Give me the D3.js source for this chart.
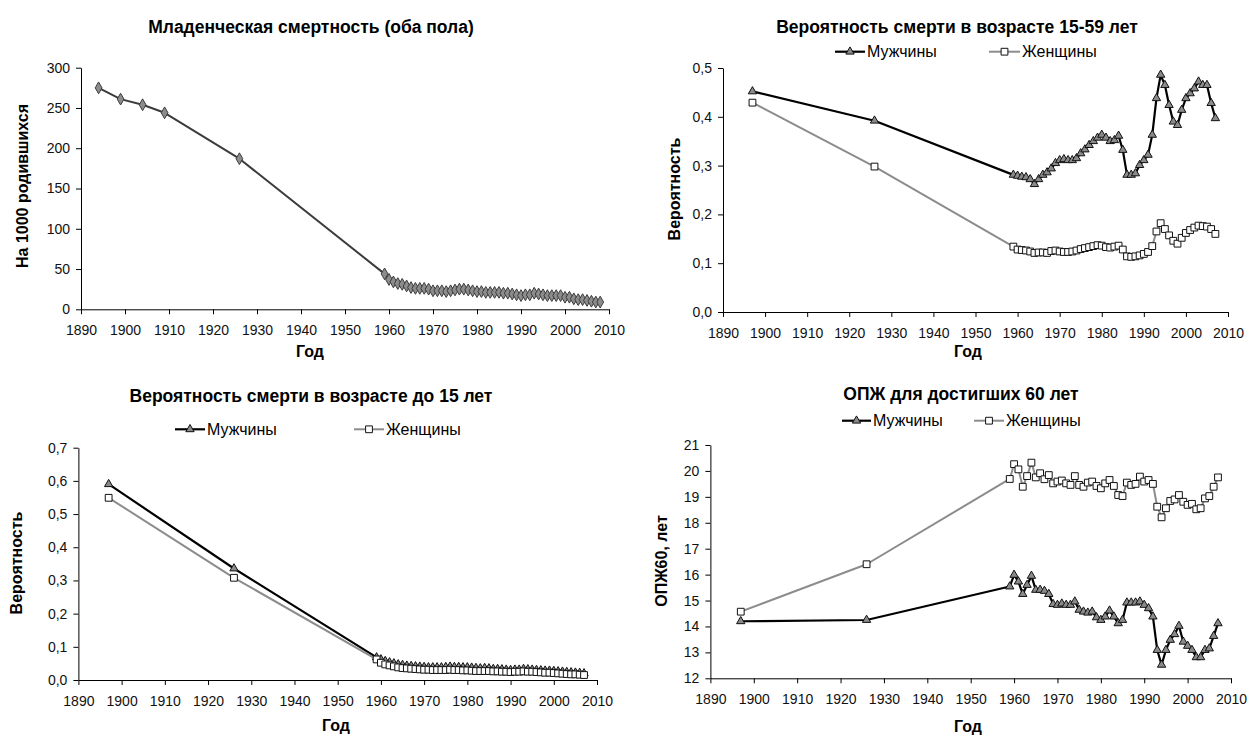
<!DOCTYPE html>
<html>
<head>
<meta charset="utf-8">
<script src="https://cdn.jsdelivr.net/npm/d3@7"></script>
<style>
  body { margin: 0; background: #fff; }
  svg { font-family: "Liberation Sans", Arial, sans-serif; }
  .axis path, .axis line { stroke: #000; }
  .axis text { font-size: 14px; fill: #111; }
</style>
</head>
<body>
<div id="chart"></div>
<script>
// ---- data ----
const xTicks = [1890, 1900, 1910, 1920, 1930, 1940, 1950, 1960, 1970, 1980, 1990, 2000, 2010];

const infantYears = [1894, 1899, 1904, 1909, 1926,
  1959, 1960, 1961, 1962, 1963, 1964, 1965, 1966, 1967, 1968, 1969, 1970, 1971, 1972, 1973, 1974,
  1975, 1976, 1977, 1978, 1979, 1980, 1981, 1982, 1983, 1984, 1985, 1986, 1987, 1988, 1989, 1990,
  1991, 1992, 1993, 1994, 1995, 1996, 1997, 1998, 1999, 2000, 2001, 2002, 2003, 2004, 2005, 2006,
  2007, 2008];
const infantRate = [275, 261, 254, 244, 187,
  44, 37, 34, 32, 31, 29, 27, 26, 26, 26, 25, 23, 23, 23, 22, 23,
  24, 25, 25, 24, 23, 22, 22, 21, 21, 21, 21, 20, 20, 19, 18, 17,
  18, 18, 20, 19, 18, 17, 17, 17, 17, 15, 15, 13, 12, 12, 11, 10,
  9, 9];

const sexYears = [1897, 1926,
  1959, 1960, 1961, 1962, 1963, 1964, 1965, 1966, 1967, 1968, 1969, 1970, 1971, 1972, 1973, 1974,
  1975, 1976, 1977, 1978, 1979, 1980, 1981, 1982, 1983, 1984, 1985, 1986, 1987, 1988, 1989, 1990,
  1991, 1992, 1993, 1994, 1995, 1996, 1997, 1998, 1999, 2000, 2001, 2002, 2003, 2004, 2005, 2006,
  2007];

// вероятность смерти 15-59
const adultMen = [0.452, 0.392,
  0.281, 0.279, 0.277, 0.276, 0.272, 0.262, 0.272, 0.281, 0.286, 0.294, 0.305, 0.311, 0.313, 0.311, 0.311, 0.315,
  0.325, 0.333, 0.342, 0.350, 0.357, 0.363, 0.357, 0.350, 0.352, 0.361, 0.332, 0.281, 0.281, 0.284, 0.301, 0.311,
  0.322, 0.363, 0.438, 0.486, 0.465, 0.424, 0.390, 0.383, 0.414, 0.438, 0.448, 0.458, 0.472, 0.465, 0.465, 0.428,
  0.397];
const adultWomen = [0.429, 0.298,
  0.134, 0.128, 0.127, 0.126, 0.124, 0.121, 0.122, 0.122, 0.121, 0.125, 0.126, 0.124, 0.123, 0.123, 0.124, 0.126,
  0.129, 0.131, 0.133, 0.135, 0.137, 0.136, 0.133, 0.132, 0.134, 0.136, 0.128, 0.114, 0.113, 0.114, 0.116, 0.119,
  0.123, 0.135, 0.165, 0.182, 0.170, 0.157, 0.146, 0.140, 0.152, 0.162, 0.168, 0.173, 0.177, 0.176, 0.175, 0.170,
  0.160];

// вероятность смерти до 15
const childMen = [0.590, 0.336,
  0.068, 0.062, 0.057, 0.053, 0.050, 0.047, 0.045, 0.043, 0.042, 0.041, 0.040, 0.039, 0.038, 0.038, 0.038, 0.038,
  0.039, 0.040, 0.039, 0.039, 0.038, 0.038, 0.037, 0.036, 0.035, 0.036, 0.035, 0.033, 0.033, 0.032, 0.031, 0.030,
  0.031, 0.031, 0.033, 0.032, 0.031, 0.030, 0.029, 0.028, 0.028, 0.027, 0.026, 0.025, 0.024, 0.023, 0.022, 0.021,
  0.020];
const childWomen = [0.549, 0.308,
  0.062, 0.052, 0.047, 0.044, 0.041, 0.038, 0.036, 0.035, 0.034, 0.033, 0.032, 0.031, 0.031, 0.030, 0.030, 0.030,
  0.030, 0.031, 0.030, 0.030, 0.029, 0.029, 0.028, 0.027, 0.027, 0.027, 0.027, 0.026, 0.026, 0.025, 0.025, 0.024,
  0.025, 0.025, 0.026, 0.025, 0.025, 0.024, 0.023, 0.022, 0.022, 0.021, 0.020, 0.019, 0.018, 0.017, 0.017, 0.016,
  0.015];

// ОПЖ в 60 лет
const e60Men = [14.20, 14.25,
  15.54, 15.99, 15.73, 15.25, 15.60, 15.95, 15.41, 15.41, 15.37, 15.25, 14.86, 14.83, 14.88, 14.83, 14.83, 14.96,
  14.64, 14.57, 14.53, 14.57, 14.35, 14.25, 14.38, 14.61, 14.38, 14.12, 14.25, 14.92, 14.92, 14.92, 14.96, 14.83,
  14.70, 14.38, 13.09, 12.52, 13.09, 13.48, 13.70, 14.02, 13.41, 13.25, 13.09, 12.81, 12.81, 13.09, 13.15, 13.63,
  14.12];
const e60Women = [14.57, 16.40,
  19.69, 20.26, 20.06, 19.39, 19.80, 20.32, 19.75, 19.91, 19.68, 19.84, 19.52, 19.59, 19.63, 19.52, 19.46, 19.80,
  19.46, 19.39, 19.55, 19.59, 19.42, 19.33, 19.52, 19.65, 19.42, 19.07, 19.03, 19.55, 19.46, 19.50, 19.78, 19.59,
  19.65, 19.50, 18.62, 18.21, 18.56, 18.84, 18.90, 19.07, 18.81, 18.69, 18.73, 18.52, 18.56, 18.94, 19.03, 19.39,
  19.75];

const infantTicks = [0, 50, 100, 150, 200, 250, 300];
const adultTicks = [0, 0.1, 0.2, 0.3, 0.4, 0.5];
const childTicks = [0, 0.1, 0.2, 0.3, 0.4, 0.5, 0.6, 0.7];
const e60Ticks = [12, 13, 14, 15, 16, 17, 18, 19, 20, 21];

// ---- styles ----
const ruLocale = d3.formatLocale({ decimal: ",", thousands: " ", grouping: [3], currency: ["", ""] });
const fmt1 = ruLocale.format(".1f");

const menStyle = { name: "Мужчины", line: "#000", lineWidth: 2.2, symbol: d3.symbolTriangle, size: 30, fill: "#8a8a8a", stroke: "#111" };
const womenStyle = { name: "Женщины", line: "#8c8c8c", lineWidth: 2, symbol: d3.symbolSquare, size: 46, fill: "#fff", stroke: "#111" };

class LinePanel {
  constructor(svg, cfg) {
    this.svg = svg;
    this.cfg = cfg;
    this.initVis();
  }

  initVis() {
    const vis = this;
    const c = vis.cfg;

    vis.g = vis.svg.append("g");

    vis.x = d3.scaleLinear().domain([1890, 2010]).range([c.left, c.right]);
    vis.y = d3.scaleLinear().domain(c.yDomain).range([c.bottom, c.top]);

    // Axes
    vis.g.append("g")
      .attr("class", "axis")
      .attr("transform", `translate(0,${c.bottom})`)
      .call(d3.axisBottom(vis.x).tickValues(xTicks).tickFormat(d3.format("d"))
        .tickSize(5).tickPadding(11).tickSizeOuter(0));

    vis.g.append("g")
      .attr("class", "axis")
      .attr("transform", `translate(${c.left},0)`)
      .call(d3.axisLeft(vis.y).tickValues(c.yTicks).tickFormat(c.yFormat)
        .tickSize(5).tickPadding(6).tickSizeOuter(0));

    // Titles
    vis.g.append("text")
      .attr("x", c.titleX).attr("y", c.titleY)
      .attr("text-anchor", "middle")
      .attr("font-weight", "bold").attr("font-size", 17.5)
      .text(c.title);

    vis.g.append("text")
      .attr("transform", `translate(${c.yTitleX},${c.yTitleY}) rotate(-90)`)
      .attr("text-anchor", "middle").attr("dy", "0.35em")
      .attr("font-weight", "bold").attr("font-size", 16)
      .text(c.yTitle);

    vis.g.append("text")
      .attr("x", c.xTitleX).attr("y", c.xTitleY)
      .attr("text-anchor", "middle")
      .attr("font-weight", "bold").attr("font-size", 16)
      .text("Год");

    // Series
    c.series.forEach(s => {
      const line = d3.line()
        .x((d, i) => vis.x(s.years[i]))
        .y(d => vis.y(d));

      vis.g.append("path")
        .datum(s.values)
        .attr("fill", "none")
        .attr("stroke", s.line)
        .attr("stroke-width", s.lineWidth)
        .attr("stroke-linejoin", "round")
        .attr("d", line);

      vis.g.append("g").selectAll("path")
        .data(s.values)
        .join("path")
        .attr("transform", (d, i) => `translate(${vis.x(s.years[i])},${vis.y(d)})`)
        .attr("d", d3.symbol(s.symbol, s.size)())
        .attr("fill", s.fill)
        .attr("stroke", s.stroke)
        .attr("stroke-width", 1);
    });

    // Legend
    if (c.legend) {
      c.series.forEach((s, i) => {
        const L = c.legend[i];
        const lg = vis.g.append("g");
        lg.append("line")
          .attr("x1", L.x).attr("x2", L.x + L.w)
          .attr("y1", c.legendY).attr("y2", c.legendY)
          .attr("stroke", s.line).attr("stroke-width", s.lineWidth);
        lg.append("path")
          .attr("transform", `translate(${L.x + L.w / 2},${c.legendY})`)
          .attr("d", d3.symbol(s.symbol, s.size)())
          .attr("fill", s.fill).attr("stroke", s.stroke);
        lg.append("text")
          .attr("x", L.x + L.w + 2).attr("y", c.legendY + 5.5)
          .attr("font-size", 16)
          .text(s.name);
      });
    }
  }
}

const svg = d3.select("#chart").append("svg")
  .attr("width", 1248).attr("height", 736);

new LinePanel(svg, {
  left: 81, right: 609, top: 67.7, bottom: 309.3,
  yDomain: [0, 300], yTicks: infantTicks, yFormat: d3.format("d"),
  title: "Младенческая смертность (оба пола)", titleX: 311, titleY: 33,
  yTitle: "На 1000 родившихся", yTitleX: 22, yTitleY: 186,
  xTitleX: 310, xTitleY: 357,
  series: [{ years: infantYears, values: infantRate, line: "#3c3c3c", lineWidth: 2,
    symbol: d3.symbolDiamond, size: 40, fill: "#8c8c8c", stroke: "#3c3c3c" }]
});

new LinePanel(svg, {
  left: 723, right: 1228, top: 68, bottom: 312,
  yDomain: [0, 0.5], yTicks: adultTicks, yFormat: fmt1,
  title: "Вероятность смерти в возрасте 15-59 лет", titleX: 957, titleY: 33,
  yTitle: "Вероятность", yTitleX: 674, yTitleY: 189,
  xTitleX: 968, xTitleY: 357,
  legendY: 51.7, legend: [{ x: 835, w: 30 }, { x: 989, w: 31 }],
  series: [
    Object.assign({ years: sexYears, values: adultMen }, menStyle),
    Object.assign({ years: sexYears, values: adultWomen }, womenStyle)
  ]
});

new LinePanel(svg, {
  left: 78.4, right: 597, top: 447.7, bottom: 680,
  yDomain: [0, 0.7], yTicks: childTicks, yFormat: fmt1,
  title: "Вероятность смерти в возрасте до 15 лет", titleX: 311, titleY: 402,
  yTitle: "Вероятность", yTitleX: 16, yTitleY: 563,
  xTitleX: 336, xTitleY: 731,
  legendY: 429.3, legend: [{ x: 175, w: 30 }, { x: 354, w: 30 }],
  series: [
    Object.assign({ years: sexYears, values: childMen }, menStyle),
    Object.assign({ years: sexYears, values: childWomen }, womenStyle)
  ]
});

new LinePanel(svg, {
  left: 710.4, right: 1231, top: 445, bottom: 678.3,
  yDomain: [12, 21], yTicks: e60Ticks, yFormat: d3.format("d"),
  title: "ОПЖ для достигших 60 лет", titleX: 961, titleY: 400,
  yTitle: "ОПЖ60, лет", yTitleX: 661, yTitleY: 561,
  xTitleX: 968, xTitleY: 732,
  legendY: 420.7, legend: [{ x: 842, w: 29 }, { x: 974, w: 30 }],
  series: [
    Object.assign({ years: sexYears, values: e60Men }, menStyle),
    Object.assign({ years: sexYears, values: e60Women }, womenStyle)
  ]
});
</script>
</body>
</html>
